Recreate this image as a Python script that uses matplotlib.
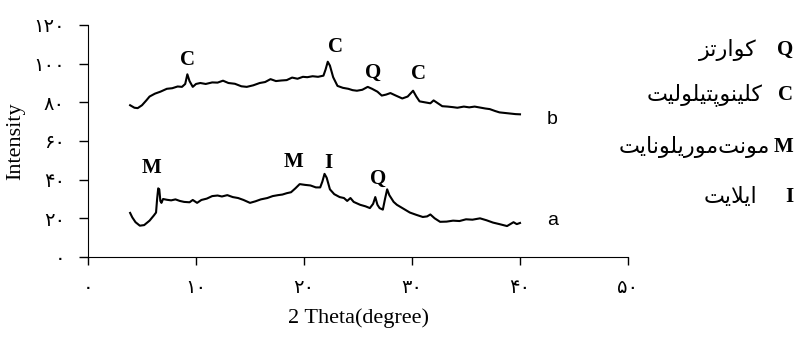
# XRD patterns of the two samples (a, b) with mineral peak labels
import numpy as np
import matplotlib
matplotlib.use('Agg')
import matplotlib.pyplot as plt

# Data
bTheta = [3.9, 4.3, 4.6, 5.0, 5.4, 5.7, 6.2, 6.7, 7.3, 7.8, 8.3, 8.7, 9.0, 9.2, 9.4,
          9.7, 10.0, 10.4, 10.9, 11.5, 12.0, 12.5, 13.0, 13.6, 14.2, 14.7, 15.3, 15.9,
          16.4, 16.9, 17.4, 17.9, 18.4, 18.9, 19.4, 19.9, 20.3, 20.8, 21.3, 21.8, 22.0,
          22.2, 22.4, 22.7, 23.1, 23.6, 24.1, 24.5, 24.9, 25.4, 25.9, 26.3, 26.8, 27.2,
          27.6, 28.0, 28.5, 29.1, 29.6, 30.1, 30.4, 30.7, 31.2, 31.7, 32.0, 32.4, 32.8,
          33.3, 33.8, 34.2, 34.8, 35.3, 35.8, 36.3, 36.8, 37.2, 37.7, 38.1, 38.6, 39.1,
          39.6, 40.0]
bIntensity = [78.5, 77.2, 77.0, 78.5, 81.0, 83.0, 84.5, 85.5, 87.0, 87.3, 88.2, 88.0, 89.5,
              94.5, 91.0, 88.0, 89.5, 90.0, 89.5, 90.3, 90.2, 91.2, 90.0, 89.6, 88.3, 88.0,
              88.8, 90.0, 90.5, 92.0, 91.0, 91.3, 91.5, 92.8, 92.2, 93.2, 93.0, 93.5, 93.2,
              93.8, 97.0, 101.0, 99.0, 93.0, 88.5, 87.5, 87.0, 86.3, 86.0, 86.5, 88.0, 87.0,
              85.5, 83.5, 84.0, 84.8, 83.5, 82.0, 83.0, 86.0, 83.0, 80.5, 80.0, 79.5, 81.0,
              79.5, 78.0, 77.8, 77.5, 77.2, 77.8, 77.4, 77.8, 77.3, 76.8, 76.5, 75.5, 74.8,
              74.5, 74.2, 73.9, 73.8]

aTheta = [3.9, 4.1, 4.4, 4.8, 5.2, 5.7, 6.1, 6.3, 6.4, 6.5, 6.6, 6.7, 6.8, 6.95, 7.3, 7.7,
          8.1, 8.5, 8.9, 9.4, 9.7, 10.1, 10.5, 11.0, 11.5, 12.0, 12.4, 12.9, 13.4, 13.9,
          14.4, 15.0, 15.5, 16.0, 16.6, 17.1, 17.6, 18.0, 18.4, 18.8, 19.2, 19.6, 20.1,
          20.6, 21.1, 21.5, 21.7, 21.9, 22.1, 22.4, 22.8, 23.3, 23.7, 24.0, 24.3, 24.6,
          25.2, 25.7, 26.1, 26.4, 26.6, 26.8, 27.0, 27.3, 27.5, 27.7, 27.9, 28.3, 28.6,
          29.2, 29.8, 30.4, 31.0, 31.4, 31.7, 32.1, 32.6, 33.2, 33.8, 34.4, 35.0, 35.6,
          36.3, 36.9, 37.5, 38.1, 38.8, 39.1, 39.4, 39.7, 40.0]
aIntensity = [22.8, 20.5, 18.0, 16.2, 16.5, 18.8, 21.5, 23.0, 30.0, 35.5, 35.0, 29.0, 28.0,
              30.0, 29.6, 29.3, 29.8, 29.0, 28.5, 28.3, 29.5, 28.0, 29.5, 30.2, 31.5, 31.8,
              31.3, 32.0, 31.0, 30.5, 29.5, 28.0, 28.8, 29.8, 30.5, 31.5, 32.0, 32.3, 33.0,
              33.5, 35.5, 37.7, 37.3, 37.0, 36.0, 36.0, 39.0, 43.0, 41.0, 35.0, 32.5, 31.0,
              30.5, 29.0, 30.5, 28.5, 27.0, 26.2, 25.3, 27.5, 31.0, 27.0, 25.3, 24.5, 30.0,
              35.0, 32.0, 28.5, 27.0, 25.0, 23.0, 21.8, 20.7, 21.0, 22.0, 20.0, 18.2, 18.3,
              18.8, 18.6, 19.5, 19.3, 20.0, 19.0, 17.8, 17.0, 16.0, 17.0, 18.0, 17.0, 17.6]

# peak letters: (letter, 2theta, intensity)
bPeaks = [('C', 9.2, 102), ('C', 22.9, 108.5), ('Q', 26.4, 95), ('C', 30.6, 94.5)]
aPeaks = [('M', 5.9, 46), ('M', 19.0, 49), ('I', 22.3, 48.5), ('Q', 26.9, 40.3)]

legendLetters = ['Q', 'C', 'M', 'I']
legendNames = ['کوارتز', 'کلینوپتیلولیت', 'مونت\u200cموریلونایت', 'ایلایت']

xTicks = [0, 10, 20, 30, 40, 50]
xTickLabels = ['۰', '۱۰', '۲۰', '۳۰', '۴۰', '۵۰']
yTicks = [0, 20, 40, 60, 80, 100, 120]
yTickLabels = ['۰', '۲۰', '۴۰', '۶۰', '۸۰', '۱۰۰', '۱۲۰']

# matplotlib does no Arabic shaping, so pick the joined glyph forms by hand
# (isolated, final, initial, medial)
FORMS = {
    'ا': ('\ufe8d', '\ufe8e'),
    'و': ('\ufeed', '\ufeee'),
    'ر': ('\ufead', '\ufeae'),
    'ز': ('\ufeaf', '\ufeb0'),
    'ت': ('\ufe95', '\ufe96', '\ufe97', '\ufe98'),
    'ن': ('\ufee5', '\ufee6', '\ufee7', '\ufee8'),
    'ل': ('\ufedd', '\ufede', '\ufedf', '\ufee0'),
    'م': ('\ufee1', '\ufee2', '\ufee3', '\ufee4'),
    'ک': ('\ufb8e', '\ufb8f', '\ufb90', '\ufb91'),
    'پ': ('\ufb56', '\ufb57', '\ufb58', '\ufb59'),
    'ی': ('\ufbfc', '\ufbfd', '\ufbfe', '\ufbff'),
}


def shapeFa(word):
    out = []
    i = 0
    while i < len(word):
        ch = word[i]
        if ch not in FORMS:   # zero width non-joiner
            i += 1
            continue
        prev = word[i - 1] if i > 0 else ''
        joinsPrev = prev in FORMS and len(FORMS[prev]) == 4
        if ch == 'ل' and i + 1 < len(word) and word[i + 1] == 'ا':
            out.append('\ufefc' if joinsPrev else '\ufefb')
            i += 2
            continue
        forms = FORMS[ch]
        nxt = word[i + 1] if i + 1 < len(word) else ''
        joinsNext = len(forms) == 4 and nxt in FORMS
        if joinsPrev and joinsNext:
            out.append(forms[3])
        elif joinsPrev:
            out.append(forms[1])
        elif joinsNext:
            out.append(forms[2])
        else:
            out.append(forms[0])
        i += 1
    return ''.join(reversed(out))


# Figure
W, H = 798, 337
fig = plt.figure(figsize=(W / 100, H / 100), dpi=100)
ax = fig.add_axes([88 / W, 1 - 257 / H, 540 / W, 232 / H])

ax.plot(bTheta, bIntensity, color='black', lw=1.5)
ax.plot(aTheta, aIntensity, color='black', lw=1.5)

for letter, x, y in bPeaks + aPeaks:
    ax.text(x, y, letter, ha='center', va='center', fontsize=15,
            fontweight='bold', family='Liberation Serif')

ax.text(43.0, 71, 'b', ha='center', va='center', fontsize=14, family='Liberation Sans')
ax.text(43.0, 19, 'a', ha='center', va='center', fontsize=14, family='Liberation Sans')

ax.set_xlim(0, 50)
ax.set_ylim(0, 120)
ax.set_xticks(xTicks)
ax.set_xticklabels(xTickLabels, fontsize=14, family='DejaVu Sans')
ax.set_yticks(yTicks)
ax.set_yticklabels(yTickLabels, fontsize=14, family='DejaVu Sans')
ax.tick_params(axis='x', direction='out', length=6, width=1, pad=9)
ax.tick_params(axis='y', direction='out', length=6.5, width=1, pad=10)
ax.spines['top'].set_visible(False)
ax.spines['right'].set_visible(False)
ax.set_xlabel('2 Theta(degree)', fontsize=16, family='Liberation Serif', labelpad=8)
ax.set_ylabel('Intensity', fontsize=16, family='Liberation Serif', labelpad=6)

# legend of minerals on the right
rowY = [50, 95, 147, 197]
nameRight = [757, 763, 770, 757]
for letter, name, y, xr in zip(legendLetters, legendNames, rowY, nameRight):
    fig.text(793 / W, 1 - y / H, letter, ha='right', va='center', fontsize=15,
             fontweight='bold', family='Liberation Serif')
    fig.text(xr / W, 1 - y / H, shapeFa(name), ha='right', va='center',
             fontsize=16, family='DejaVu Sans')

fig.savefig('out.png', dpi=100)
